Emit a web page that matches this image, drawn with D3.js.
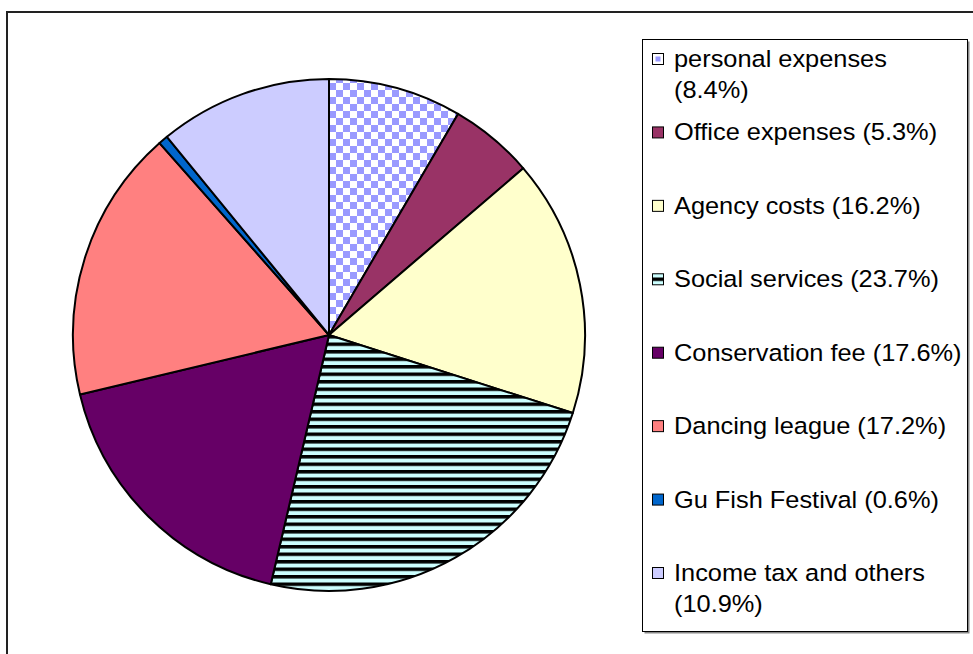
<!DOCTYPE html>
<html>
<head>
    <script src="https://d3js.org/d3.v7.min.js"></script>
    <style>
        body { margin: 0; background: #fff; }
        svg { display: block; font-family: "Liberation Sans", Arial, sans-serif; }
    </style>
</head>
<body>
    <div id="chart"></div>
    <script>
        // data
        var labels = ["personal expenses", "Office expenses", "Agency costs", "Social services",
            "Conservation fee", "Dancing league", "Gu Fish Festival", "Income tax and others"];
        var values = [8.4, 5.3, 16.2, 23.7, 17.6, 17.2, 0.6, 10.9];
        var fills = ["url(#checker)", "#993366", "#FFFFCC", "url(#stripes)",
            "#660066", "#FF8080", "#0066CC", "#CCCCFF"];
        var swatchFills = ["url(#checkerSmall)", "#993366", "#FFFFCC", "url(#stripes)",
            "#660066", "#FF8080", "#0066CC", "#CCCCFF"];

        var width = 973, height = 654;
        var svg = d3.select("#chart").append("svg")
            .attr("width", width)
            .attr("height", height);

        // patterns
        var defs = svg.append("defs");
        var checker = defs.append("pattern")
            .attr("id", "checker")
            .attr("patternUnits", "userSpaceOnUse")
            .attr("width", 14).attr("height", 14);
        checker.append("rect").attr("width", 14).attr("height", 14).attr("fill", "#fff");
        checker.append("rect").attr("width", 7).attr("height", 7).attr("fill", "#9999FF");
        checker.append("rect").attr("x", 7).attr("y", 7).attr("width", 7).attr("height", 7).attr("fill", "#9999FF");

        var checkerSmall = defs.append("pattern")
            .attr("id", "checkerSmall")
            .attr("patternUnits", "objectBoundingBox")
            .attr("width", 1).attr("height", 1);
        checkerSmall.append("rect").attr("width", 11).attr("height", 11).attr("fill", "#fff");
        checkerSmall.append("rect").attr("x", 3).attr("y", 3).attr("width", 5).attr("height", 5).attr("fill", "#9999FF");

        var stripes = defs.append("pattern")
            .attr("id", "stripes")
            .attr("patternUnits", "userSpaceOnUse")
            .attr("width", 8).attr("height", 7.5);
        stripes.append("rect").attr("width", 8).attr("height", 7.5).attr("fill", "#CCFFFF");
        stripes.append("rect").attr("width", 8).attr("height", 3.5).attr("fill", "#000");

        // chart frame
        svg.append("rect")
            .attr("x", 7).attr("y", 12)
            .attr("width", 1000).attr("height", 700)
            .attr("fill", "#fff")
            .attr("stroke", "#222")
            .attr("stroke-width", 2);

        // pie
        var cx = 329, cy = 335, radius = 256;
        var pie = d3.pie().sort(null).value(function (d) { return d; });
        var arc = d3.arc().innerRadius(0).outerRadius(radius);

        var g = svg.append("g")
            .attr("transform", "translate(" + cx + "," + cy + ")");

        g.selectAll("path")
            .data(pie(values))
            .enter()
            .append("path")
            .attr("d", arc)
            .attr("fill", function (d, i) { return fills[i]; })
            .attr("stroke", "#000")
            .attr("stroke-width", 2)
            .attr("stroke-linejoin", "round");

        // legend box
        var lx = 642.5, ly = 39.5, lw = 325, lh = 592;
        svg.append("rect")
            .attr("x", lx + 2).attr("y", ly + 2)
            .attr("width", lw).attr("height", lh)
            .attr("fill", "#888");
        svg.append("rect")
            .attr("x", lx).attr("y", ly)
            .attr("width", lw).attr("height", lh)
            .attr("fill", "#fff")
            .attr("stroke", "#000")
            .attr("stroke-width", 1);

        var yItem = d3.scalePoint()
            .domain(labels)
            .range([67, 581]);

        var legend = svg.selectAll(".legend")
            .data(labels)
            .enter().append("g")
            .attr("class", "legend");

        legend.append("rect")
            .attr("x", 652.5)
            .attr("y", function (d) { return yItem(d) - 13.5; })
            .attr("width", 11)
            .attr("height", 11)
            .attr("fill", function (d, i) { return swatchFills[i]; })
            .attr("stroke", "#000")
            .attr("stroke-width", 1);

        var maxWidth = 269.5, lineHeight = 31;
        legend.each(function (d, i) {
            var text = d3.select(this).append("text")
                .attr("transform", "translate(674," + yItem(d) + ") scale(1.08,1)")
                .style("font-size", "23.5px")
                .attr("fill", "#000");
            var words = (d + " (" + values[i] + "%)").split(" ");
            var line = [];
            var lineNo = 0;
            var tspan = text.append("tspan").attr("x", 0).attr("y", 0);
            words.forEach(function (w) {
                line.push(w);
                tspan.text(line.join(" "));
                if (tspan.node().getComputedTextLength() > maxWidth && line.length > 1) {
                    line.pop();
                    tspan.text(line.join(" "));
                    line = [w];
                    lineNo++;
                    tspan = text.append("tspan").attr("x", 0).attr("y", lineNo * lineHeight).text(w);
                }
            });
        });
    </script>
</body>
</html>
